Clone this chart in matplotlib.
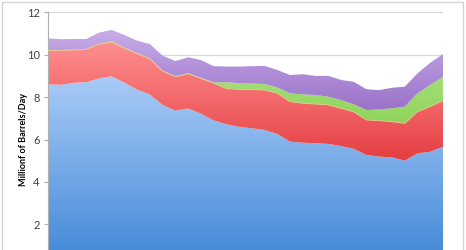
import numpy as np
import matplotlib
matplotlib.use('Agg')
import matplotlib.pyplot as plt
from matplotlib.colors import LinearSegmentedColormap
from matplotlib.patches import Rectangle

years = list(range(1980, 2012))
# layer thicknesses (million barrels/day)
crude = [8.60, 8.58, 8.67, 8.70, 8.88, 8.98, 8.68, 8.35, 8.12, 7.63, 7.36, 7.46,
         7.22, 6.90, 6.72, 6.60, 6.53, 6.45, 6.26, 5.90, 5.85, 5.82, 5.79, 5.69,
         5.56, 5.27, 5.19, 5.16, 5.00, 5.35, 5.42, 5.66]
ngl = [1.59, 1.62, 1.55, 1.55, 1.62, 1.62, 1.62, 1.70, 1.68, 1.59, 1.60, 1.64,
       1.66, 1.76, 1.68, 1.76, 1.83, 1.88, 1.92, 1.88, 1.86, 1.85, 1.84, 1.78,
       1.74, 1.65, 1.70, 1.68, 1.76, 1.96, 2.13, 2.17]
other = [0.02, 0.02, 0.02, 0.02, 0.02, 0.03, 0.03, 0.03, 0.03, 0.03, 0.03, 0.03,
         0.03, 0.04, 0.30, 0.30, 0.28, 0.29, 0.28, 0.40, 0.42, 0.43, 0.39, 0.39,
         0.36, 0.47, 0.53, 0.63, 0.79, 0.87, 1.02, 1.13]
gain = [0.56, 0.51, 0.50, 0.47, 0.52, 0.54, 0.60, 0.58, 0.67, 0.70, 0.71, 0.75,
        0.84, 0.76, 0.74, 0.78, 0.82, 0.85, 0.82, 0.86, 0.95, 0.90, 0.98, 0.95,
        1.06, 0.98, 0.91, 0.97, 0.94, 0.94, 1.05, 1.07]
yticks = [2, 4, 6, 8, 10, 12]

fig = plt.figure(figsize=(4.66, 2.5), dpi=100)
ax = fig.add_axes([48 / 466, 1 - 266.7 / 250, 395 / 466, 254.4 / 250])

x = np.array(years, dtype=float)
layers = [(crude, '#a9cbf7', '#3f86d6'),
          (ngl, '#ff8f8f', '#e53e42'),
          (other, '#b4e68c', '#8fd45c'),
          (gain, '#c9ade8', '#9a72c9')]

bottom = np.zeros(len(x))
for vals, c_top, c_bot in layers:
    top = bottom + np.array(vals)
    poly = ax.fill_between(x, bottom, top, facecolor='none', edgecolor='none')
    path = poly.get_paths()[0]
    cmap = LinearSegmentedColormap.from_list('g', [c_bot, c_top])
    grad = np.linspace(0, 1, 256)[:, None]
    im = ax.imshow(grad, aspect='auto', cmap=cmap, origin='lower',
                   extent=[x[0], x[-1], bottom.min(), top.max()], zorder=2)
    im.set_clip_path(path, transform=ax.transData)
    bottom = top

# thin tan edge along the top of the red band
red_top = np.array(crude) + np.array(ngl)
ax.plot(x, red_top, color='#e8c48a', lw=0.6, zorder=3)

ax.set_xlim(x[0], x[-1])
ax.set_ylim(0, 12)
ax.set_yticks(yticks)
ax.set_yticklabels([str(t) for t in yticks], fontsize=8, color='#404040',
                   family='Lato')
ax.set_xticks([])
ax.yaxis.grid(True, color='#d9d9d9', lw=0.9)
ax.set_axisbelow(True)
for s in ['top', 'right', 'bottom']:
    ax.spines[s].set_visible(False)
ax.spines['left'].set_color('#b0b0b0')
ax.tick_params(axis='y', length=3, color='#b0b0b0', pad=3)
ax.set_ylabel('Millionf of Barrels/Day', fontsize=6.5, fontweight='bold',
              family='Lato', labelpad=8)
ax.yaxis.set_label_coords(-20 / 395, (266.7 - 140) / 254.4)

fig.patches.append(Rectangle((2 / 466, -0.1), 461 / 466, 1.1 - 2 / 250,
                             transform=fig.transFigure, fill=False,
                             edgecolor='#d4d4d4', lw=1.0))

fig.savefig('out.png', dpi=100)
